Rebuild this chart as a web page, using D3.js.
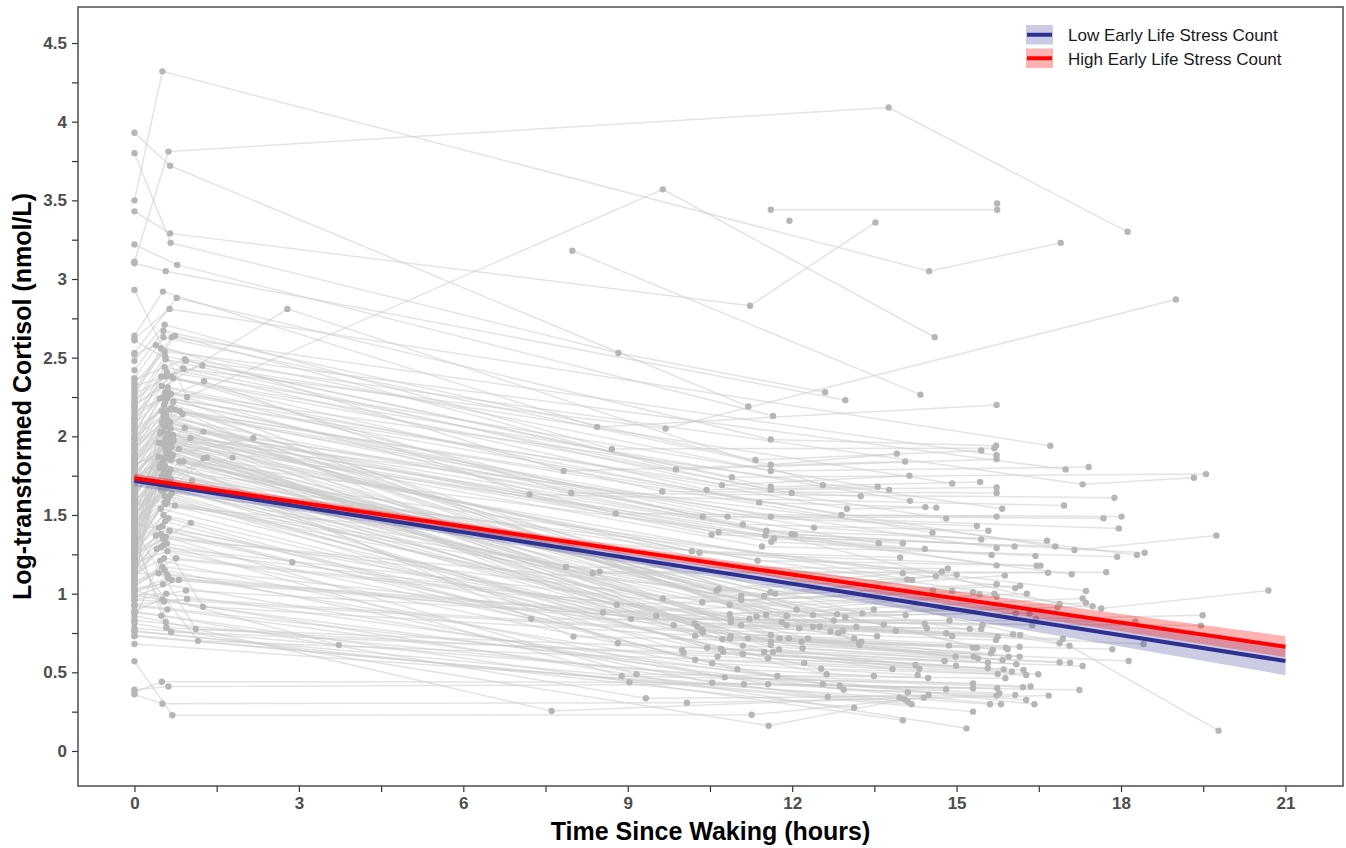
<!DOCTYPE html>
<html>
<head>
<meta charset="utf-8">
<script src="https://cdn.jsdelivr.net/npm/d3@7"></script>
<style>
  body { margin: 0; background: #fff; }
  text { font-family: Arial, "Liberation Sans", sans-serif; }
</style>
</head>
<body>
<svg id="chart"></svg>
<script>
// ---- data: one entry per participant, samples are [hours since waking, log cortisol] ----
const wakeCort = [
  2.64, 2.53, 2.62, 2.48, 2.42, 2.37, 2.30, 2.28, 2.52, 2.25,
  2.34, 2.21, 2.18, 2.36, 2.14, 2.32, 2.11, 2.27, 2.09, 2.23,
  2.06, 2.19, 2.04, 2.16, 2.01, 1.98, 2.12, 1.96, 2.08, 1.93,
  1.91, 2.03, 1.89, 1.99, 1.86, 1.95, 1.84, 1.81, 1.92, 1.79,
  1.88, 1.76, 1.74, 1.85, 1.71, 1.69, 1.82, 1.67, 1.78, 1.64,
  1.73, 1.62, 1.59, 1.70, 1.57, 1.66, 1.54, 1.61, 1.52, 1.58,
  1.49, 1.55, 1.47, 1.51, 1.44, 1.48, 1.42, 1.46, 1.39, 1.43,
  1.37, 1.41, 1.34, 1.38, 1.32, 1.36, 1.29, 1.33, 1.27, 1.31,
  1.24, 1.28, 1.22, 1.26, 1.19, 1.23, 1.17, 1.21, 1.14, 1.18,
  1.12, 1.16, 1.09, 1.13, 1.07, 1.11, 1.04, 1.08, 1.02, 1.06,
  1.99, 1.95, 1.01, 2.05, 0.98, 1.88, 0.96, 1.93, 1.84, 0.93,
  1.79, 1.86, 1.75, 0.89, 1.60, 1.72, 1.81, 1.68, 1.77, 1.65,
  1.71, 1.63, 1.56, 1.74, 1.53, 1.66, 1.58, 1.50, 1.62, 1.47,
  1.59, 1.45, 1.54, 1.41, 1.52, 1.38, 1.48, 1.35, 1.44, 1.32,
  1.40, 1.29, 1.36, 1.26, 1.33, 1.22, 1.30, 1.18, 1.27, 1.15,
  1.24, 1.10, 1.20, 0.83, 0.375, 1.06, 1.13, 0.39, 1.03, 0.99,
  0.96, 0.92, 0.88, 0.36, 0.86, 0.57, 0.81, 0.78, 0.76, 0.73,
  0.68, 0.83, 0.93, 0.765, 0.735, 0.886, 0.99,
  3.50, 3.11, 3.93, 3.43, 3.80, 3.22, 3.10, 2.93, null, null, null, null, 2.61, 2.20, 1.83, 1.72, 1.45, 1.02, 1.25
];

const morningSamples = [
  [0.52,2.92],[0.77,2.88],[0.64,2.81],[0.55,2.71],[0.53,2.67],[0.53,2.63],[0.68,2.63],[0.74,2.64],[0.39,2.58],[0.48,2.56],
  [0.55,2.54],[0.56,2.51],[0.57,2.49],[0.92,2.49],[0.94,2.48],[1.24,2.45],[0.55,2.44],[0.89,2.43],[0.59,2.41],[0.56,2.38],
  [0.49,2.38],[0.67,2.38],[0.71,2.37],[1.27,2.35],[0.5,2.32],[0.56,2.28],[0.62,2.28],[0.67,2.27],[0.53,2.25],[0.46,2.24],
  [0.59,2.24],[0.71,2.22],[0.56,2.17],[0.65,2.17],[0.74,2.17],[0.83,2.16],[0.88,2.14],[0.53,2.125],[0.5,2.09],[0.59,2.08],
  [0.56,2.06],[0.92,2.055],[1.26,2.03],[0.52,2.03],[0.47,2.02],[0.59,2.0],[1.02,1.99],[0.65,1.99],[0.71,1.98],[0.71,1.97],
  [0.44,1.96],[0.65,1.96],[0.53,1.95],[0.68,1.935],null,[0.81,1.92],[0.64,1.90],[0.44,1.87],[0.53,1.86],[0.62,1.87],
  [0.65,1.86],[1.26,1.86],[1.32,1.865],[0.82,1.84],[0.89,1.84],[0.56,1.81],[0.53,1.79],[0.47,1.82],[0.5,1.75],[1.05,1.72],
  [0.6,1.70],[0.55,1.68],[0.66,1.73],[0.48,1.66],[0.68,1.64],[0.64,1.62],[0.55,1.58],[0.74,1.56],[0.61,2.31],[0.54,2.20],
  [0.58,2.12],[0.45,1.42],[0.66,2.05],[0.57,1.99],[0.62,2.26],[0.39,1.37],[0.52,1.35],[0.7,2.01],[0.59,1.32],[0.63,1.93],
  [0.48,1.295],[0.41,1.284],[0.57,2.14],[0.54,1.225],[0.76,1.225],[0.6,1.95],[0.51,1.17],[0.44,1.13],[0.62,1.10],[0.55,2.08],
  [0.56,2.22],[0.68,2.18],[0.68,1.087],[0.5,2.16],[0.81,1.087],[0.58,2.11],[0.94,1.02],[0.53,2.07],[0.62,2.02],[0.96,0.966],
  [0.49,2.03],[0.65,2.09],[0.52,1.96],[0.51,0.964],[0.6,1.58],[0.56,1.93],[0.64,1.98],[0.59,1.89],[0.55,1.94],[0.67,1.85],
  [0.58,1.91],[0.52,1.84],[0.7,1.88],[0.46,1.80],[0.6,1.86],[0.63,1.77],[0.53,1.82],[0.57,1.74],[1.25,0.917],[0.66,1.79],
  [0.54,1.76],[0.61,1.71],[0.5,1.69],[1.12,0.776],[0.58,1.67],[0.64,1.72],[0.55,1.62],[0.67,0.757],[0.52,1.65],[0.6,1.60],
  [0.57,1.57],[0.48,1.54],[0.58,0.784],[0.53,1.50],[0.62,1.48],[1.16,0.70],[0.56,1.46],[0.51,1.43],[0.64,1.40],[0.49,1.38],
  [0.57,1.36],[0.53,1.31],[0.6,1.27],[0.47,1.21],[0.5,0.44],[0.55,1.15],[0.6,1.12],[0.62,0.41],[0.52,1.06],[0.58,1.0],
  [0.54,0.95],[0.6,0.9],[0.49,0.86],[0.51,0.30],[0.57,0.82],[0.69,0.227],null,null,null,null,
  null,null,null,null,null,null,null,
  [0.51,4.32],[0.62,3.81],[0.65,3.72],[0.65,3.29],[0.66,3.23],[0.78,3.09],[0.57,3.05],[0.96,2.25],null,null,null,null,[0.9,2.43],[2.79,2.81],[2.17,1.99],[1.79,1.865],[2.88,1.20],[3.73,0.674],[1.03,1.45]
];

const afternoonSamples = [
  [8.44,2.06],[11.61,1.98],null,[8.71,1.92],[11.33,1.85],[11.61,1.82],null,[9.88,1.79],[7.83,1.78],[11.61,1.78],
  null,[10.9,1.74],[10.72,1.69],[17.3,1.695],[11.61,1.68],null,[10.44,1.66],[11.61,1.66],null,[9.63,1.65],
  [11.99,1.64],[7.97,1.64],null,[7.21,1.63],[11.4,1.58],[13.0,1.54],null,[8.78,1.51],[12.9,1.50],[10.37,1.49],
  null,[10.82,1.49],[11.61,1.49],[11.1,1.44],null,[17.15,1.278],[12.4,1.42],[11.53,1.40],null,[10.66,1.39],
  [11.99,1.38],[10.53,1.375],null,[11.51,1.37],[12.05,1.375],[11.67,1.35],null,[11.62,1.33],[11.45,1.30],[10.17,1.27],
  null,[10.31,1.26],[11.37,1.21],[7.87,1.17],null,[8.49,1.14],[8.36,1.13],[10.66,1.03],null,[10.62,1.02],
  [11.6,1.01],[11.69,1.0],null,[11.49,0.985],[11.07,0.985],[9.64,0.97],null,[11.07,0.96],[17.64,0.906],[10.36,0.945],
  null,[8.8,0.93],[10.86,0.93],[12.08,0.90],null,[8.55,0.88],[10.86,0.87],[12.82,0.87],null,[12.38,0.865],
  [11.52,0.864],[9.52,0.86],null,[11.9,0.86],[11.35,0.855],[12.97,0.85],[16.45,0.84],[9.06,0.84],[7.24,0.84],[10.88,0.84],
  null,[11.22,0.84],[12.76,0.83],[11.81,0.82],null,[10.88,0.82],[10.22,0.81],[9.84,0.80],null,[11.07,0.80],
  [11.9,0.80],[10.27,0.79],null,[12.5,0.79],[12.38,0.79],[12.13,0.78],null,[10.36,0.77],[12.7,0.76],[10.35,0.765],
  null,[12.93,0.765],[12.84,0.75],[10.37,0.755],[17.06,0.669],[11.61,0.737],[10.23,0.733],null,[10.88,0.73],[8.01,0.727],
  [10.86,0.715],null,[11.19,0.716],[11.77,0.716],[11.94,0.716],[12.29,0.716],[10.73,0.71],[11.61,0.695],[12.17,0.695],[8.82,0.685],
  [11.61,0.674],[11.1,0.67],[10.45,0.657],[10.7,0.65],[12.19,0.653],[11.76,0.646],[9.99,0.64],[10.02,0.625],[10.74,0.63],[11.65,0.63],
  [11.49,0.63],[11.1,0.617],[10.64,0.60],[11.56,0.59],[10.23,0.58],[12.22,0.56],[10.54,0.557],[12.53,0.523],[11.0,0.52],[12.63,0.488],
  [9.16,0.488],[8.89,0.477],[11.73,0.477],[10.77,0.468],[9.03,0.437],[10.54,0.434],[12.56,0.426],[11.12,0.424],[11.56,0.424],[12.87,0.415],
  [12.94,0.39],[12.65,0.345],[9.33,0.335],[10.08,0.307],[7.61,0.254],[11.26,0.23],[11.57,0.16],null,null,null,
  null,null,null,null,null,null,null,
  [14.5,3.05],[13.76,4.09],[11.2,2.19],[11.23,2.83],[8.83,2.53],[11.65,2.13],[12.97,2.23],[9.64,3.57],[7.99,3.18],[11.61,3.44],[11.95,3.37],null,[9.69,2.05],[12.56,1.69],null,null,null,null,null
];

const eveningSamples = [
  [15.73,2.20],[15.72,1.94],[16.71,1.94],[15.69,1.925],[15.45,1.91],[13.91,1.89],[15.73,1.88],[15.73,1.855],[14.06,1.84],[17.41,1.805],
  [16.99,1.79],[19.55,1.76],[14.14,1.75],[19.33,1.737],[15.43,1.71],[14.92,1.70],[13.56,1.68],[15.73,1.675],[13.77,1.66],[15.73,1.64],
  [13.25,1.62],[17.88,1.61],[14.15,1.59],[16.96,1.56],[14.43,1.55],[14.63,1.547],[15.83,1.54],[15.73,1.49],[18.01,1.49],[17.68,1.48],
  [14.81,1.477],[15.37,1.43],[17.96,1.415],[15.58,1.40],[14.56,1.388],[19.74,1.37],[15.45,1.345],[16.65,1.337],[13.58,1.32],[14.02,1.32],
  [16.06,1.30],[16.8,1.30],[15.73,1.29],[14.42,1.284],[18.43,1.26],[15.64,1.246],[18.29,1.246],[16.44,1.24],[17.93,1.235],[13.97,1.23],
  [15.73,1.18],[16.46,1.178],[16.53,1.178],[14.84,1.16],[14.73,1.14],[17.73,1.136],[16.67,1.133],[14.02,1.13],[17.1,1.123],[15.0,1.12],
  [15.88,1.115],[14.62,1.11],[14.1,1.09],[14.19,1.087],[15.73,1.06],[16.16,1.05],[16.07,1.035],[14.57,1.02],[20.69,1.02],[14.92,1.017],
  [17.36,1.017],[15.3,1.01],[16.28,1.0],[15.69,1.0],[15.42,0.996],[15.73,0.98],[17.3,0.97],[17.36,0.943],[16.88,0.934],[17.48,0.92],
  [16.84,0.913],[13.49,0.90],[13.28,0.875],[16.08,0.875],[16.33,0.875],[14.07,0.863],[19.49,0.863],[14.87,0.83],[18.26,0.824],[14.42,0.807],
  [13.67,0.805],[15.47,0.80],[16.38,0.80],[19.46,0.797],[13.17,0.79],[14.46,0.78],[15.24,0.776],[15.45,0.776],[13.89,0.763],[14.81,0.748],
  [16.03,0.742],[16.16,0.737],[13.55,0.73],[14.92,0.73],[15.75,0.727],[13.13,0.715],[16.94,0.712],[15.72,0.706],[13.26,0.695],[13.22,0.685],
  [16.88,0.685],[18.41,0.68],[13.23,0.674],[14.86,0.67],[19.78,0.129],[16.15,0.663],[15.3,0.657],[15.37,0.657],[15.9,0.657],[17.84,0.647],
  [15.93,0.647],[15.66,0.642],[15.63,0.621],[14.98,0.60],[15.31,0.60],[15.95,0.60],[16.15,0.60],[15.39,0.589],[15.84,0.578],[14.78,0.572],
  [18.14,0.572],[16.88,0.564],[17.07,0.561],[15.57,0.561],[16.09,0.551],[14.25,0.547],[14.99,0.542],[17.3,0.54],[15.57,0.526],[14.32,0.523],
  [13.83,0.521],[15.86,0.519],[16.22,0.515],[16.01,0.504],[15.75,0.49],[16.49,0.488],[14.29,0.483],[16.27,0.483],[13.49,0.477],[14.48,0.464],
  [15.89,0.462],[15.3,0.43],[16.35,0.41],[16.21,0.405],[15.74,0.399],[15.3,0.399],[14.81,0.392],[17.24,0.388],[14.11,0.373],[15.78,0.367],
  [16.07,0.356],[14.49,0.356],[15.73,0.352],[16.68,0.352],[13.96,0.339],[14.4,0.339],[14.05,0.329],[16.27,0.324],[14.11,0.313],[14.18,0.297],
  [15.61,0.297],[15.81,0.297],[16.42,0.297],[13.13,0.275],[15.3,0.25],[14.02,0.195],[15.18,0.144],
  [16.9,3.23],[18.12,3.30],null,[13.52,3.36],[12.6,2.28],null,null,[14.6,2.63],[14.34,2.265],[15.74,3.44],null,[15.74,3.48],[19.0,2.87],null,null,null,null,null,null
];

// model fits and confidence bands
const fitHours = [0, 21];
const lowFit = [1.718, 0.572];
const highFit = [1.733, 0.663];
const ciHours = [0, 3, 6, 9, 12, 15, 18, 21];
const lowLower = [1.683, 1.524, 1.363, 1.197, 1.023, 0.844, 0.664, 0.482];
const lowUpper = [1.753, 1.584, 1.419, 1.257, 1.103, 0.954, 0.808, 0.662];
const highLower = [1.703, 1.555, 1.405, 1.249, 1.089, 0.924, 0.761, 0.596];
const highUpper = [1.763, 1.605, 1.449, 1.299, 1.155, 1.014, 0.871, 0.730];

const groupNames = ["Low Early Life Stress Count", "High Early Life Stress Count"];
const xTicks = [0, 3, 6, 9, 12, 15, 18, 21];
const xMinorTicks = [1.5, 4.5, 7.5, 10.5, 13.5, 16.5, 19.5];
const yTicks = [0, 0.5, 1, 1.5, 2, 2.5, 3, 3.5, 4, 4.5];
const yMinorTicks = [0.25, 0.75, 1.25, 1.75, 2.25, 2.75, 3.25, 3.75, 4.25];

// ---- layout ----
const width = 1346, height = 848;
const panel = {left: 78, right: 1343, top: 7, bottom: 786};
const navy = "#2e3192", red = "#ff0000";

const svg = d3.select("#chart").attr("width", width).attr("height", height);

const x = d3.scaleLinear().domain([-1.03, 22.05]).range([panel.left, panel.right]);
const y = d3.scaleLinear().domain([-0.2225, 4.729]).range([panel.bottom, panel.top]);

svg.append("defs").append("clipPath").attr("id", "panel-clip")
  .append("rect")
  .attr("x", panel.left).attr("y", panel.top)
  .attr("width", panel.right - panel.left).attr("height", panel.bottom - panel.top);

const plot = svg.append("g").attr("clip-path", "url(#panel-clip)");

// build each participant's ordered samples
const n = d3.max([wakeCort.length, morningSamples.length, afternoonSamples.length, eveningSamples.length]);
const subjects = d3.range(n).map(i => {
  const pts = [];
  if (wakeCort[i] != null) pts.push([0, wakeCort[i]]);
  [morningSamples, afternoonSamples, eveningSamples].forEach(s => { if (s[i]) pts.push(s[i]); });
  return pts;
});

const line = d3.line().x(d => x(d[0])).y(d => y(d[1]));

// individual trajectories
plot.append("g").selectAll("path")
  .data(subjects.filter(p => p.length > 1))
  .enter().append("path")
  .attr("d", line)
  .attr("fill", "none")
  .attr("stroke", "#cccccc")
  .attr("stroke-opacity", 0.55)
  .attr("stroke-width", 1.5);

plot.append("g").selectAll("circle")
  .data(subjects.flat())
  .enter().append("circle")
  .attr("cx", d => x(d[0]))
  .attr("cy", d => y(d[1]))
  .attr("r", 3.2)
  .attr("fill", "#b6b6b6");

// confidence ribbons
const area = d3.area().x(d => x(d.h)).y0(d => y(d.lo)).y1(d => y(d.hi));
const lowBand = ciHours.map((h, i) => ({h: h, lo: lowLower[i], hi: lowUpper[i]}));
const highBand = ciHours.map((h, i) => ({h: h, lo: highLower[i], hi: highUpper[i]}));

plot.append("path").datum(lowBand).attr("d", area)
  .attr("fill", navy).attr("fill-opacity", 0.25);
plot.append("path").datum(highBand).attr("d", area)
  .attr("fill", red).attr("fill-opacity", 0.3);

// fitted lines
plot.append("path").datum(fitHours.map((h, i) => [h, lowFit[i]]))
  .attr("d", line).attr("fill", "none").attr("stroke", navy).attr("stroke-width", 4);
plot.append("path").datum(fitHours.map((h, i) => [h, highFit[i]]))
  .attr("d", line).attr("fill", "none").attr("stroke", red).attr("stroke-width", 4);

// ---- axes ----
const xAxis = d3.axisBottom(x)
  .tickValues(xTicks.concat(xMinorTicks))
  .tickFormat(d => xTicks.includes(d) ? d : "")
  .tickSizeInner(6).tickSizeOuter(0).tickPadding(5);
const yAxis = d3.axisLeft(y)
  .tickValues(yTicks.concat(yMinorTicks))
  .tickFormat(d => yTicks.includes(d) ? d : "")
  .tickSizeInner(6).tickSizeOuter(0).tickPadding(5);

const gx = svg.append("g").attr("transform", `translate(0,${panel.bottom})`).call(xAxis);
const gy = svg.append("g").attr("transform", `translate(${panel.left},0)`).call(yAxis);
[gx, gy].forEach(g => {
  g.select(".domain").remove();
  g.selectAll(".tick line").attr("stroke", "#333333").attr("stroke-width", 1.2);
  g.selectAll(".tick text")
    .attr("fill", "#4d4d4d")
    .style("font-size", "17px")
    .style("font-weight", "bold")
    .style("font-family", "Arial, 'Liberation Sans', sans-serif");
});

// panel border
svg.append("rect")
  .attr("x", panel.left).attr("y", panel.top)
  .attr("width", panel.right - panel.left).attr("height", panel.bottom - panel.top)
  .attr("fill", "none").attr("stroke", "#4d4d4d").attr("stroke-width", 1.5);

// axis titles
svg.append("text")
  .attr("x", (panel.left + panel.right) / 2)
  .attr("y", 840)
  .attr("text-anchor", "middle")
  .style("font-size", "25px").style("font-weight", "bold")
  .attr("fill", "#000")
  .text("Time Since Waking (hours)");

svg.append("text")
  .attr("transform", `translate(31,${(panel.top + panel.bottom) / 2}) rotate(-90)`)
  .attr("text-anchor", "middle")
  .style("font-size", "25px").style("font-weight", "bold")
  .attr("fill", "#000")
  .text("Log-transformed Cortisol (nmol/L)");

// ---- legend ----
const legend = svg.append("g").attr("transform", "translate(1026,25)");
const keyColours = [navy, red];
const keyOpacity = [0.25, 0.3];
groupNames.forEach((name, i) => {
  const row = legend.append("g").attr("transform", `translate(0,${i * 23.5})`);
  row.append("rect").attr("width", 27).attr("height", 19.5)
    .attr("fill", keyColours[i]).attr("fill-opacity", keyOpacity[i]);
  row.append("line").attr("x1", 1).attr("x2", 26).attr("y1", 9.75).attr("y2", 9.75)
    .attr("stroke", keyColours[i]).attr("stroke-width", 4);
  row.append("text").attr("x", 42).attr("y", 10.5)
    .attr("dominant-baseline", "central")
    .style("font-size", "17px")
    .attr("fill", "#1a1a1a")
    .text(name);
});
</script>
</body>
</html>
